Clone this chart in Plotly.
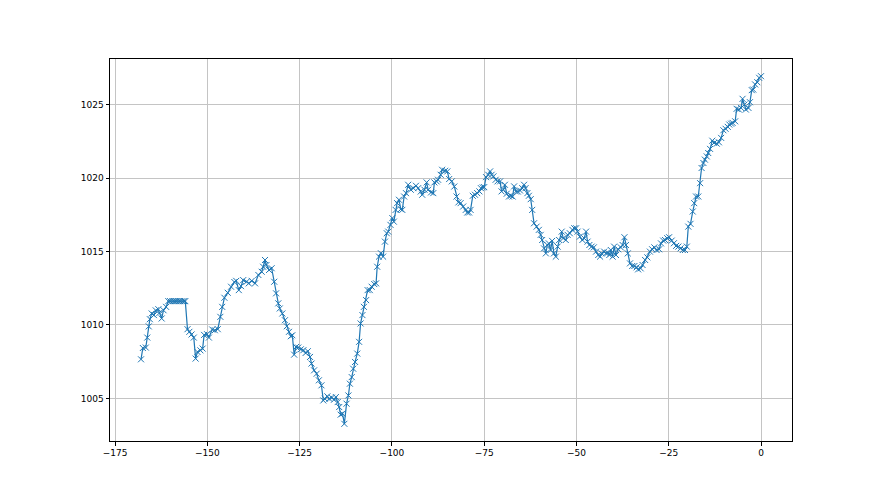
import plotly.graph_objects as go

# hours relative to now
hours = [
    -168.0, -167.5, -166.7, -166.3, -165.9, -165.6, -165.1, -164.5, -164.0, -163.3,
    -163.0, -162.4, -161.9, -161.2, -160.6, -160.1, -159.5, -159.0, -158.5, -157.9,
    -157.4, -156.8, -156.3, -156.0, -155.4, -154.9, -154.3, -153.7, -153.2, -152.7,
    -151.9, -151.3, -150.9, -150.1, -149.6, -148.7, -148.0, -147.2, -146.5, -146.0,
    -145.4, -144.5, -143.6, -142.7, -142.2, -141.5, -140.9, -140.3, -139.4, -138.8,
    -138.0, -137.1, -136.2, -135.3, -134.9, -134.4, -134.0, -133.3, -132.6, -131.9,
    -131.4, -130.8, -130.4, -129.7, -129.0, -128.5, -127.9, -127.4, -127.0, -126.5,
    -126.0, -125.4, -124.7, -124.0, -123.4, -122.8, -122.2, -121.8, -121.1, -120.4,
    -119.8, -119.1, -118.6, -118.2, -117.5, -117.0, -116.3, -115.7, -115.2, -114.7,
    -114.3, -113.9, -113.4, -112.9, -112.3, -111.8, -111.4, -110.9, -110.5, -110.0,
    -109.4, -108.9, -108.5, -108.0, -107.6, -107.0, -106.6, -106.0, -105.5, -104.8,
    -104.3, -104.0, -103.5, -103.0, -102.4, -101.9, -101.4, -101.0, -100.4, -99.9,
    -99.5, -99.0, -98.6, -98.1, -97.6, -97.2, -96.7, -96.2, -95.6, -94.9,
    -94.2, -93.5, -92.9, -92.2, -91.8, -91.2, -90.6, -90.2, -89.4, -88.8,
    -88.5, -87.9, -87.5, -86.8, -86.4, -85.6, -85.0, -84.5, -83.8, -83.1,
    -82.5, -82.0, -81.4, -80.7, -80.0, -79.6, -79.1, -78.7, -78.1, -77.5,
    -76.9, -76.3, -75.9, -75.4, -75.0, -74.5, -73.9, -73.4, -73.0, -72.5,
    -71.9, -71.4, -70.7, -70.3, -69.8, -69.4, -68.9, -68.3, -67.8, -67.3,
    -66.9, -66.4, -65.9, -65.3, -64.7, -64.2, -63.8, -63.3, -62.9, -62.4,
    -62.0, -61.5, -60.8, -60.2, -59.7, -59.3, -58.8, -58.3, -57.9, -57.5,
    -57.0, -56.6, -56.1, -55.6, -55.1, -54.7, -54.0, -53.6, -52.9, -52.4,
    -51.8, -51.1, -50.6, -50.1, -49.7, -49.1, -48.4, -47.9, -47.4, -47.0,
    -46.5, -45.9, -45.3, -44.7, -44.1, -43.6, -43.2, -42.5, -42.0, -41.5,
    -41.1, -40.7, -40.2, -39.8, -39.3, -38.7, -38.0, -37.5, -37.0, -36.6,
    -36.1, -35.5, -34.9, -34.3, -33.7, -33.3, -32.6, -32.1, -31.4, -30.8,
    -30.1, -29.5, -28.9, -28.3, -27.6, -27.1, -26.5, -26.0, -25.4, -24.9,
    -24.2, -23.6, -23.0, -22.4, -21.8, -21.2, -20.6, -20.1, -19.7, -19.1,
    -18.5, -18.1, -17.6, -17.0, -16.5, -16.1, -15.6, -15.2, -14.7, -14.3,
    -13.8, -13.2, -12.7, -12.0, -11.4, -10.8, -10.2, -9.6, -9.0, -8.6,
    -8.1, -7.7, -7.0, -6.6, -6.0, -5.4, -5.0, -4.5, -4.1, -3.4,
    -3.0, -2.5, -2.1, -1.6, -1.0, -0.5, 0.0,
]

# pressure readings (hPa)
pressure = [
    1007.66, 1008.43, 1008.46, 1009.14, 1009.90, 1010.39, 1010.78, 1010.67, 1010.99, 1011.07,
    1010.82, 1010.44, 1011.00, 1011.23, 1011.62, 1011.62, 1011.62, 1011.62, 1011.62, 1011.62,
    1011.62, 1011.62, 1011.62, 1011.62, 1009.71, 1009.53, 1009.35, 1009.14, 1007.71, 1008.16,
    1008.27, 1008.39, 1009.32, 1009.37, 1009.14, 1009.69, 1009.64, 1009.71, 1010.55, 1011.23,
    1011.85, 1012.19, 1012.60, 1012.92, 1013.00, 1012.37, 1012.64, 1013.05, 1012.94, 1012.83,
    1013.00, 1012.83, 1013.40, 1013.62, 1013.96, 1014.42, 1014.08, 1013.74, 1013.86, 1012.94,
    1012.15, 1011.47, 1011.12, 1010.78, 1010.32, 1009.91, 1009.53, 1009.23, 1009.30, 1007.98,
    1008.50, 1008.46, 1008.34, 1008.28, 1008.09, 1008.21, 1007.82, 1007.37, 1006.91, 1006.68,
    1006.23, 1005.89, 1004.86, 1004.98, 1005.14, 1004.98, 1005.05, 1004.91, 1005.09, 1004.75,
    1004.41, 1003.89, 1003.96, 1003.27, 1004.64, 1005.20, 1006.00, 1006.45, 1007.02, 1007.48,
    1008.05, 1008.85, 1010.10, 1010.67, 1011.23, 1011.69, 1012.37, 1012.37, 1012.60, 1012.78,
    1012.83, 1013.96, 1014.65, 1014.88, 1014.65, 1015.67, 1016.24, 1016.35, 1016.81, 1017.27,
    1017.03, 1017.83, 1018.29, 1018.52, 1017.88, 1017.83, 1018.74, 1018.97, 1019.54, 1019.20,
    1019.31, 1019.47, 1019.31, 1019.08, 1018.86, 1019.20, 1019.70, 1019.20, 1019.02, 1018.97,
    1019.70, 1019.77, 1019.88, 1020.22, 1020.56, 1020.49, 1020.45, 1019.93, 1019.77, 1019.42,
    1018.74, 1018.34, 1018.29, 1018.06, 1017.83, 1017.65, 1017.65, 1017.83, 1018.79, 1018.86,
    1018.97, 1019.09, 1019.31, 1019.36, 1019.38, 1020.06, 1020.22, 1020.45, 1020.22, 1020.11,
    1019.88, 1019.77, 1019.77, 1019.09, 1019.20, 1019.54, 1018.93, 1018.74, 1018.79, 1018.74,
    1019.43, 1019.08, 1019.08, 1019.15, 1019.31, 1019.54, 1019.31, 1018.97, 1018.79, 1018.56,
    1017.83, 1016.92, 1016.69, 1016.47, 1016.13, 1015.78, 1015.21, 1014.87, 1015.44, 1015.55,
    1015.10, 1015.72, 1014.87, 1014.65, 1015.33, 1015.78, 1016.35, 1015.90, 1015.78, 1016.13,
    1016.24, 1016.47, 1016.58, 1016.58, 1016.35, 1016.01, 1015.78, 1015.90, 1016.35, 1015.67,
    1015.44, 1015.33, 1015.28, 1014.99, 1014.76, 1014.65, 1014.87, 1014.99, 1014.87, 1014.92,
    1014.76, 1015.10, 1014.65, 1015.33, 1014.76, 1015.15, 1015.28, 1015.44, 1015.97, 1015.44,
    1014.87, 1014.19, 1014.01, 1014.01, 1013.92, 1013.78, 1013.85, 1014.08, 1014.42, 1014.60,
    1014.99, 1015.15, 1015.28, 1015.10, 1015.15, 1015.55, 1015.74, 1015.78, 1015.90, 1015.97,
    1015.74, 1015.56, 1015.38, 1015.33, 1015.21, 1015.10, 1015.10, 1015.33, 1016.69, 1016.88,
    1017.72, 1018.29, 1018.74, 1018.74, 1019.65, 1020.68, 1021.02, 1021.25, 1021.47, 1021.70,
    1021.98, 1022.54, 1022.39, 1022.34, 1022.43, 1022.73, 1023.25, 1023.35, 1023.48, 1023.64,
    1023.70, 1023.75, 1023.86, 1024.71, 1024.66, 1024.77, 1025.39, 1025.00, 1024.66, 1024.77,
    1025.16, 1025.98, 1026.02, 1026.37, 1026.52, 1026.82, 1026.93,
]

fig = go.Figure(
    go.Scatter(
        x=hours,
        y=pressure,
        mode="lines+markers",
        line=dict(color="#1f77b4", width=1.2),
        marker=dict(symbol="x-thin", size=6, line=dict(color="#1f77b4", width=1)),
        showlegend=False,
    )
)

axis_style = dict(
    showline=True,
    linecolor="black",
    linewidth=1,
    mirror=True,
    ticks="outside",
    ticklen=3.5,
    tickwidth=0.8,
    tickcolor="black",
    showgrid=True,
    gridcolor="#c4c4c4",
    gridwidth=0.8,
    zeroline=False,
    tickfont=dict(family="DejaVu Sans", size=9, color="black"),
)

fig.update_xaxes(range=[-176.4, 8.4], tick0=0, dtick=25, **axis_style)
fig.update_yaxes(range=[1002.1, 1028.1], tick0=1000, dtick=5, **axis_style)

# the page body adds ~8px offset, so shift the plot area up/left to match
fig.update_layout(
    width=880,
    height=495,
    margin=dict(l=102, r=96, t=51, b=62),
    plot_bgcolor="white",
    paper_bgcolor="white",
)

fig.write_html("out.html")
